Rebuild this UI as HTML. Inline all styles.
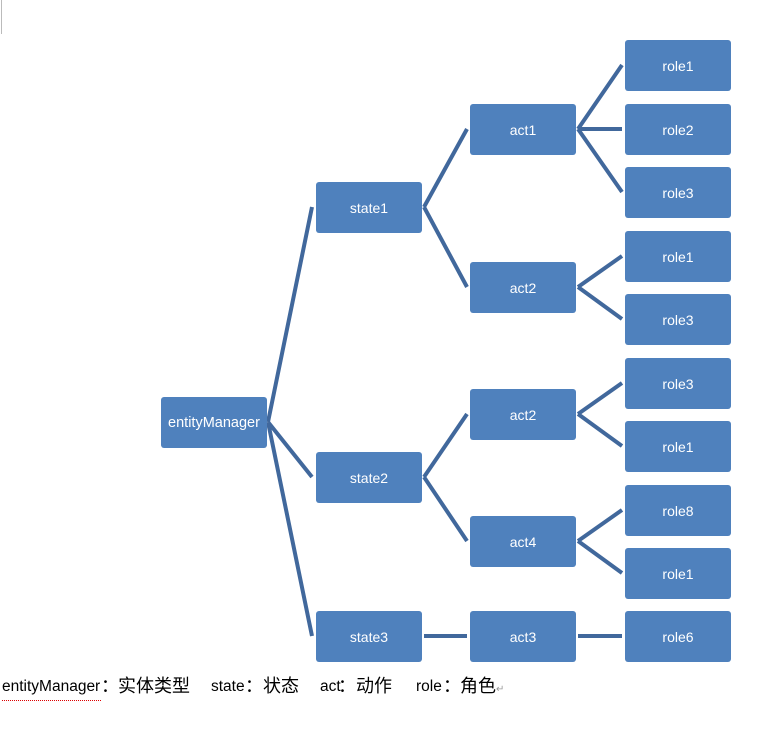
<!DOCTYPE html>
<html><head><meta charset="utf-8"><style>
body{margin:0;width:765px;height:739px;background:#fff;position:relative;overflow:hidden;font-family:"Liberation Sans","Noto Sans CJK SC",sans-serif}
.b{position:absolute;width:106px;height:51px;background:#4f81bd;border-radius:3px;color:#fff;font-size:14px;display:flex;align-items:center;justify-content:center}
.t{position:absolute;top:676px;font-size:15.5px;color:#000;white-space:nowrap;line-height:22px}
.c{position:absolute;top:674px;font-size:18px;color:#000;white-space:nowrap;line-height:22px;font-family:"Noto Sans CJK SC",sans-serif}
</style></head><body>
<div style="position:absolute;left:1px;top:0;width:1px;height:34px;background:#bbb"></div>
<svg width="765" height="739" style="position:absolute;left:0;top:0">
<g stroke="#41689c" stroke-width="4" fill="none">
<path d="M268 422L312 207M268 422L312 477M268 422L312 636"/>
<path d="M424 207L467 129M424 207L467 287M424 477L467 414M424 477L467 541M424 636L467 636"/>
<path d="M578 129L622 65M578 129L622 129M578 129L622 192"/>
<path d="M578 287L622 256M578 287L622 319"/>
<path d="M578 414L622 383M578 414L622 446"/>
<path d="M578 541L622 510M578 541L622 573"/>
<path d="M578 636L622 636"/>
</g></svg>
<div class="b" style="left:161px;top:397px;font-size:14.5px">entityManager</div>
<div class="b" style="left:316px;top:182px">state1</div>
<div class="b" style="left:316px;top:452px">state2</div>
<div class="b" style="left:316px;top:611px">state3</div>
<div class="b" style="left:470px;top:104px">act1</div>
<div class="b" style="left:470px;top:262px">act2</div>
<div class="b" style="left:470px;top:389px">act2</div>
<div class="b" style="left:470px;top:516px">act4</div>
<div class="b" style="left:470px;top:611px">act3</div>
<div class="b" style="left:625px;top:40px">role1</div>
<div class="b" style="left:625px;top:104px">role2</div>
<div class="b" style="left:625px;top:167px">role3</div>
<div class="b" style="left:625px;top:231px">role1</div>
<div class="b" style="left:625px;top:294px">role3</div>
<div class="b" style="left:625px;top:358px">role3</div>
<div class="b" style="left:625px;top:421px">role1</div>
<div class="b" style="left:625px;top:485px">role8</div>
<div class="b" style="left:625px;top:548px">role1</div>
<div class="b" style="left:625px;top:611px">role6</div>
<div class="t" style="left:2px">entityManager</div><div class="c" style="left:101px">：</div>
<div class="c" style="left:118px">实体类型</div>
<div class="t" style="left:211px">state</div><div class="c" style="left:245px">：</div>
<div class="c" style="left:263px">状态</div>
<div class="t" style="left:320px">act</div><div class="c" style="left:338px">：</div>
<div class="c" style="left:356px">动作</div>
<div class="t" style="left:416px">role</div><div class="c" style="left:443px">：</div>
<div class="c" style="left:460px">角色<span style="font-size:10px;color:#999">↵</span></div>
<div style="position:absolute;left:2px;top:700px;width:99px;border-top:1px dotted #d00"></div>
</body></html>
